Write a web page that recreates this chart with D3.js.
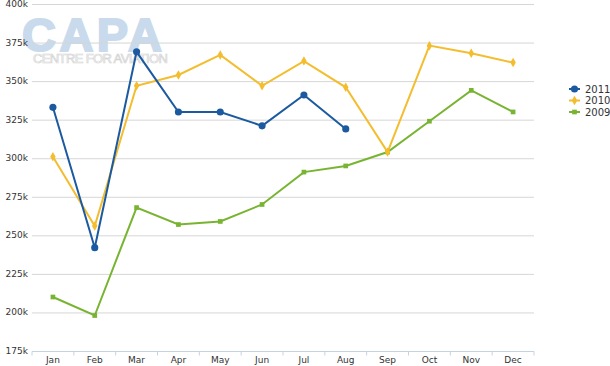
<!DOCTYPE html>
<html>
<head>
<meta charset="utf-8">
<script src="https://cdn.jsdelivr.net/npm/d3@7"></script>
<style>
  body { margin: 0; background: #fff; }
  svg { font-family: "DejaVu Sans", Verdana, sans-serif; }
</style>
</head>
<body>
<svg id="chart" width="610" height="366"></svg>
<script>
// chart data
var months = ["Jan", "Feb", "Mar", "Apr", "May", "Jun", "Jul", "Aug", "Sep", "Oct", "Nov", "Dec"];
var values2011 = [333, 242, 369, 330, 330, 321, 341, 319];
var values2010 = [301, 256, 347, 354, 367, 347, 363, 346, 304, 373, 368, 362];
var values2009 = [210, 198, 268, 257, 259, 270, 291, 295, 304, 324, 344, 330];
var yTicks = [175, 200, 225, 250, 275, 300, 325, 350, 375, 400];
var seriesNames = ["2011", "2010", "2009"];

var series = [
    { name: seriesNames[0], values: values2011, color: "#1c5aa0", symbol: d3.symbolCircle, size: 40 },
    { name: seriesNames[1], values: values2010, color: "#f3bd2e", symbol: d3.symbolDiamond, size: 26 },
    { name: seriesNames[2], values: values2009, color: "#78b431", symbol: d3.symbolSquare, size: 22 }
];

var dimensions = {
    width: 610,
    height: 366,
    margin: { top: 4, bottom: 15, left: 32, right: 76 }
};

var svg = d3.select("#chart");

var xScale = d3.scaleBand()
    .domain(months)
    .range([dimensions.margin.left, dimensions.width - dimensions.margin.right]);

var yScale = d3.scaleLinear()
    .domain([175, 400])
    .range([dimensions.height - dimensions.margin.bottom, dimensions.margin.top]);

// watermark
svg.append("text")
    .attr("x", 22)
    .attr("y", 51)
    .attr("font-family", "Liberation Sans, Arial, sans-serif")
    .attr("font-weight", "bold")
    .attr("font-size", 47)
    .attr("textLength", 140)
    .attr("fill", "#c8daec")
    .attr("stroke", "#c8daec")
    .attr("stroke-width", 2)
    .text("CAPA");

svg.append("text")
    .attr("x", 33)
    .attr("y", 63)
    .attr("font-family", "Liberation Sans, Arial, sans-serif")
    .attr("font-size", 13)
    .attr("textLength", 135)
    .attr("fill", "none")
    .attr("stroke", "#d4d4d4")
    .attr("stroke-width", 0.7)
    .text("CENTRE FOR AVIATION");

// gridlines
svg.append("g")
    .selectAll("line")
    .data(yTicks.slice(1))
    .enter()
    .append("line")
    .attr("x1", dimensions.margin.left)
    .attr("x2", dimensions.width - dimensions.margin.right)
    .attr("y1", d => yScale(d) + 0.5)
    .attr("y2", d => yScale(d) + 0.5)
    .attr("stroke", "#d6d6d6")
    .attr("stroke-width", 1);

// y labels
svg.append("g")
    .selectAll("text")
    .data(yTicks)
    .enter()
    .append("text")
    .attr("x", 28)
    .attr("y", d => yScale(d) + 3)
    .attr("text-anchor", "end")
    .attr("font-size", 9)
    .attr("fill", "#333")
    .text(d => d + "k");

// x axis
var xAxis = svg.append("g")
    .attr("transform", `translate(0, ${yScale(175) + 0.5})`);

xAxis.append("line")
    .attr("x1", dimensions.margin.left)
    .attr("x2", dimensions.width - dimensions.margin.right)
    .attr("stroke", "#c4d3e3")
    .attr("stroke-width", 1.2);

xAxis.selectAll(".tick")
    .data(months.concat(["end"]))
    .enter()
    .append("line")
    .attr("class", "tick")
    .attr("x1", (d, i) => i < months.length ? xScale(d) : xScale.range()[1])
    .attr("x2", (d, i) => i < months.length ? xScale(d) : xScale.range()[1])
    .attr("y1", 0)
    .attr("y2", 4)
    .attr("stroke", "#c4d3e3");

xAxis.selectAll(".label")
    .data(months)
    .enter()
    .append("text")
    .attr("class", "label")
    .attr("x", d => xScale(d) + xScale.bandwidth() / 2)
    .attr("y", 11)
    .attr("text-anchor", "middle")
    .attr("font-size", 9)
    .attr("fill", "#333")
    .text(d => d);

// lines and markers
var line = d3.line()
    .x((d, i) => xScale(months[i]) + xScale.bandwidth() / 2)
    .y(d => yScale(d));

// draw 2009 first so 2011 sits on top
series.slice().reverse().forEach(s => {
    svg.append("path")
        .datum(s.values)
        .attr("d", line)
        .attr("fill", "none")
        .attr("stroke", s.color)
        .attr("stroke-width", 2);

    svg.append("g")
        .selectAll("path")
        .data(s.values)
        .enter()
        .append("path")
        .attr("d", d3.symbol().type(s.symbol).size(s.size))
        .attr("transform", (d, i) => `translate(${xScale(months[i]) + xScale.bandwidth() / 2}, ${yScale(d)})`)
        .attr("fill", s.color);
});

// legend
var legend = svg.append("g")
    .selectAll(".legend")
    .data(series)
    .enter()
    .append("g")
    .attr("class", "legend")
    .attr("transform", (d, i) => `translate(569, ${89 + i * 11.5})`);

legend.append("line")
    .attr("x1", 0)
    .attr("x2", 11)
    .attr("stroke", d => d.color)
    .attr("stroke-width", 2);

legend.append("path")
    .attr("d", d => d3.symbol().type(d.symbol).size(d.size)())
    .attr("transform", "translate(5.5, 0)")
    .attr("fill", d => d.color);

legend.append("text")
    .attr("x", 16)
    .attr("y", 3.5)
    .attr("font-size", 10)
    .attr("fill", "#333")
    .text(d => d.name);
</script>
</body>
</html>
